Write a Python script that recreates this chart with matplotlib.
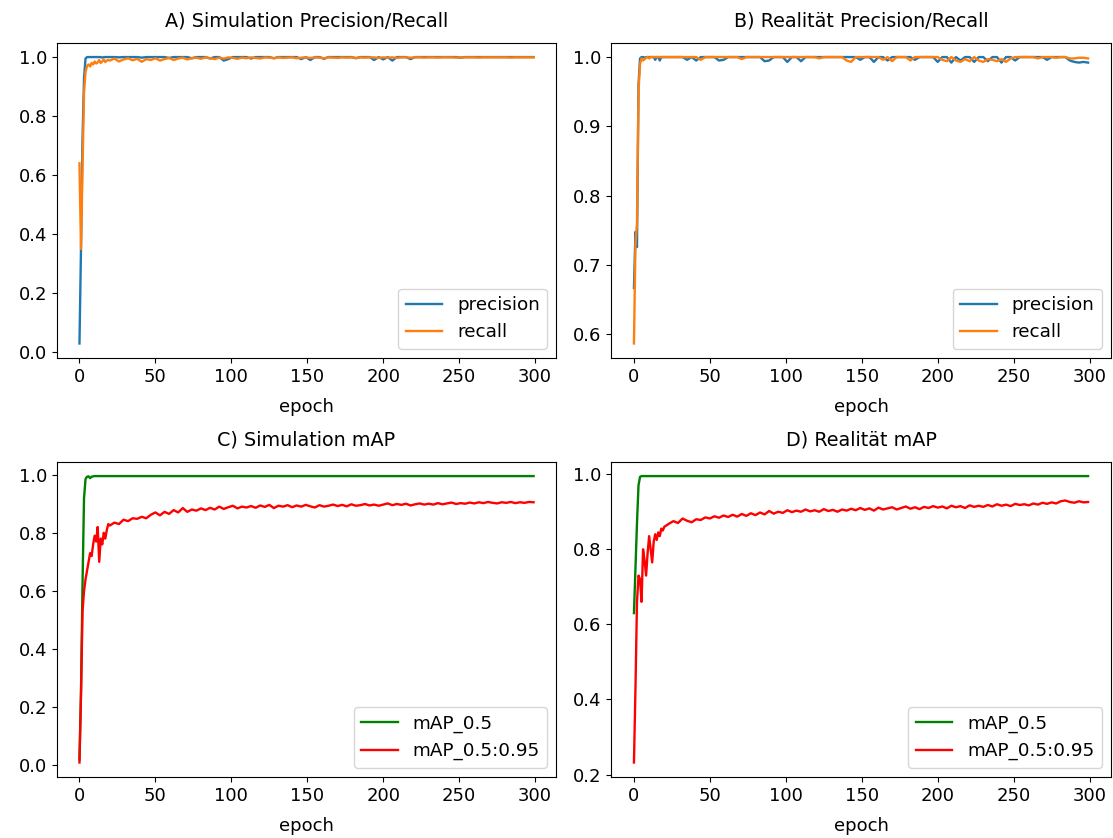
import matplotlib
matplotlib.use("Agg")
import matplotlib.pyplot as plt

epochs = list(range(0, 20)) + list(range(20, 300, 3))

# A) Simulation precision / recall
sim_prec = [0.03, 0.35, 0.72, 0.93, 0.995, 1.0, 1.0, 1.0, 1.0, 1.0,
            1.0, 1.0, 1.0, 1.0, 1.0, 0.998, 1.0, 1.0, 1.0, 1.0] + [
            1.0, 1.0, 0.999, 1.0, 1.0, 1.0, 1.0, 0.998, 1.0, 1.0,
            1.0, 1.0, 1.0, 0.997, 1.0, 1.0, 1.0, 1.0, 0.996, 1.0,
            1.0, 1.0, 0.995, 1.0, 1.0, 0.988, 0.993, 1.0, 1.0, 1.0,
            1.0, 0.995, 1.0, 1.0, 1.0, 1.0, 0.996, 1.0, 1.0, 1.0,
            1.0, 1.0, 0.993, 1.0, 0.99, 1.0, 1.0, 0.994, 1.0, 1.0,
            1.0, 1.0, 1.0, 1.0, 0.996, 1.0, 1.0, 1.0, 0.99, 1.0,
            0.992, 1.0, 0.988, 1.0, 1.0, 1.0, 0.993, 1.0, 1.0, 1.0,
            1.0, 1.0, 1.0, 1.0, 1.0, 1.0, 1.0, 0.998, 1.0, 1.0,
            1.0, 1.0, 1.0, 1.0, 1.0, 1.0, 1.0, 1.0, 1.0, 1.0,
            1.0, 1.0, 1.0, 1.0]
sim_rec = [0.64, 0.35, 0.62, 0.88, 0.95, 0.97, 0.975, 0.968, 0.98, 0.975,
           0.985, 0.978, 0.982, 0.99, 0.98, 0.985, 0.992, 0.983, 0.988, 0.99] + [
           0.988, 0.995, 0.985, 0.992, 0.996, 0.989, 0.994, 0.984, 0.993, 0.99,
           0.996, 0.988, 0.993, 0.997, 0.99, 0.995, 0.998, 0.992, 0.996, 0.998,
           0.994, 0.999, 0.996, 0.993, 0.998, 0.995, 0.999, 0.997, 0.994, 0.998,
           0.996, 0.999, 0.997, 0.995, 0.999, 0.998, 0.996, 0.999, 0.997, 0.998,
           0.999, 0.996, 0.998, 0.999, 0.997, 0.999, 0.998, 0.996, 0.999, 0.998,
           0.997, 0.999, 0.998, 0.999, 0.997, 0.999, 0.998, 0.999, 0.999, 0.997,
           0.999, 0.998, 0.999, 0.997, 0.999, 0.999, 0.998, 0.999, 0.999, 0.998,
           0.999, 0.999, 0.998, 0.999, 0.999, 0.999, 0.998, 0.999, 0.999, 0.999,
           0.999, 0.998, 0.999, 0.999, 0.999, 0.999, 0.999, 0.999, 0.998, 0.999,
           0.999, 0.999, 0.999, 0.999]

# B) Realität precision / recall
real_prec = [0.667, 0.748, 0.726, 0.96, 0.998, 1.0, 1.0, 0.999, 1.0, 1.0,
             1.0, 1.0, 1.0, 1.0, 0.996, 1.0, 1.0, 0.995, 1.0, 1.0] + [
             1.0, 1.0, 1.0, 1.0, 1.0, 0.996, 1.0, 0.995, 1.0, 1.0,
             1.0, 1.0, 0.995, 0.996, 1.0, 1.0, 1.0, 1.0, 1.0, 1.0,
             1.0, 1.0, 0.994, 0.995, 1.0, 1.0, 1.0, 0.993, 1.0, 1.0,
             0.994, 1.0, 1.0, 1.0, 1.0, 1.0, 1.0, 1.0, 1.0, 1.0,
             1.0, 1.0, 1.0, 0.996, 1.0, 1.0, 0.993, 1.0, 1.0, 0.995,
             1.0, 1.0, 1.0, 1.0, 1.0, 0.996, 1.0, 1.0, 1.0, 1.0,
             0.993, 1.0, 1.0, 0.992, 1.0, 0.995, 1.0, 1.0, 0.993, 1.0,
             1.0, 0.994, 1.0, 1.0, 0.992, 1.0, 1.0, 0.995, 1.0, 1.0,
             1.0, 1.0, 1.0, 1.0, 0.996, 1.0, 1.0, 1.0, 1.0, 0.995,
             0.993, 0.992, 0.993, 0.992]
real_rec = [0.587, 0.73, 0.76, 0.95, 0.99, 0.998, 0.995, 0.997, 0.999, 1.0,
            0.998, 1.0, 1.0, 1.0, 1.0, 1.0, 1.0, 1.0, 1.0, 1.0] + [
            1.0, 1.0, 1.0, 1.0, 1.0, 1.0, 1.0, 1.0, 0.996, 1.0,
            1.0, 1.0, 1.0, 1.0, 1.0, 1.0, 1.0, 0.997, 1.0, 1.0,
            1.0, 1.0, 1.0, 1.0, 1.0, 1.0, 1.0, 1.0, 1.0, 1.0,
            1.0, 1.0, 1.0, 1.0, 0.998, 1.0, 1.0, 1.0, 1.0, 1.0,
            0.995, 0.993, 1.0, 1.0, 1.0, 1.0, 1.0, 1.0, 0.996, 1.0,
            0.994, 1.0, 1.0, 1.0, 0.995, 1.0, 1.0, 1.0, 1.0, 1.0,
            1.0, 0.996, 0.994, 1.0, 0.995, 0.993, 0.997, 0.994, 1.0, 0.995,
            0.993, 0.997, 0.996, 0.994, 0.997, 0.993, 0.998, 1.0, 1.0, 1.0,
            1.0, 1.0, 0.998, 1.0, 1.0, 1.0, 0.999, 1.0, 1.0, 0.998,
            0.998, 0.999, 0.999, 0.998]

# C) Simulation mAP
sim_map50 = [0.02, 0.25, 0.62, 0.92, 0.985, 0.993, 0.994, 0.988, 0.993, 0.994,
             0.995, 0.995, 0.995, 0.995, 0.995, 0.995, 0.995, 0.995, 0.995, 0.995] + [0.995] * 94
sim_map5095 = [0.01, 0.24, 0.53, 0.60, 0.64, 0.67, 0.70, 0.73, 0.72, 0.76,
               0.79, 0.77, 0.82, 0.70, 0.78, 0.76, 0.80, 0.78, 0.81, 0.83] + [
               0.825, 0.835, 0.83, 0.845, 0.84, 0.85, 0.848, 0.855, 0.85, 0.862,
               0.87, 0.86, 0.872, 0.865, 0.878, 0.87, 0.885, 0.872, 0.88, 0.876,
               0.884, 0.878, 0.886, 0.88, 0.89, 0.882, 0.888, 0.893, 0.884, 0.89,
               0.887, 0.892, 0.886, 0.894, 0.889, 0.896, 0.885, 0.893, 0.89, 0.895,
               0.888, 0.894, 0.89, 0.896, 0.891, 0.887, 0.895, 0.89, 0.893, 0.897,
               0.892, 0.896, 0.891, 0.898, 0.893, 0.895, 0.899, 0.894, 0.897, 0.893,
               0.897, 0.901, 0.895, 0.899, 0.896, 0.9, 0.894, 0.898, 0.901, 0.897,
               0.9, 0.897, 0.902, 0.898, 0.901, 0.904, 0.899, 0.902, 0.9, 0.904,
               0.901, 0.905, 0.902, 0.906, 0.903, 0.901, 0.905, 0.903, 0.906, 0.902,
               0.905, 0.903, 0.906, 0.905]

# D) Realität mAP
real_map50 = [0.63, 0.75, 0.87, 0.97, 0.993, 0.995, 0.995, 0.995, 0.995, 0.995,
              0.995, 0.995, 0.995, 0.995, 0.995, 0.995, 0.995, 0.995, 0.995, 0.995] + [0.995] * 94
real_map5095 = [0.232, 0.43, 0.66, 0.73, 0.72, 0.66, 0.80, 0.77, 0.73, 0.79,
                0.835, 0.80, 0.765, 0.82, 0.84, 0.825, 0.845, 0.835, 0.855, 0.85] + [
                0.86, 0.868, 0.875, 0.87, 0.882, 0.876, 0.872, 0.88, 0.878, 0.885,
                0.882, 0.888, 0.884, 0.89, 0.886, 0.892, 0.887, 0.894, 0.889, 0.896,
                0.891, 0.898, 0.893, 0.902, 0.895, 0.9, 0.897, 0.904, 0.899, 0.903,
                0.9, 0.906, 0.901, 0.904, 0.9, 0.907, 0.902, 0.905, 0.9, 0.906,
                0.903, 0.908, 0.904, 0.91, 0.905, 0.909, 0.903, 0.911, 0.906, 0.909,
                0.912, 0.906, 0.91, 0.914, 0.908, 0.912, 0.907, 0.913, 0.91, 0.915,
                0.911, 0.914, 0.909, 0.916, 0.912, 0.915, 0.91, 0.917, 0.913, 0.916,
                0.913, 0.918, 0.914, 0.92, 0.916, 0.919, 0.915, 0.921, 0.918, 0.92,
                0.917, 0.922, 0.919, 0.924, 0.921, 0.925, 0.922, 0.928, 0.93, 0.926,
                0.924, 0.928, 0.925, 0.926]

FS = 13.5
plt.rcParams['font.size'] = FS

fig, axs = plt.subplots(2, 2, figsize=(11.13, 8.38), dpi=100)
fig.subplots_adjust(left=0.051, right=0.998, top=0.949, bottom=0.073,
                    wspace=0.11, hspace=0.33)

panels = [
    (axs[0, 0], 'A) Simulation Precision/Recall', sim_prec, sim_rec, 'precision', 'recall', 'tab:blue', 'tab:orange'),
    (axs[0, 1], 'B) Realität Precision/Recall', real_prec, real_rec, 'precision', 'recall', 'tab:blue', 'tab:orange'),
    (axs[1, 0], 'C) Simulation mAP', sim_map50, sim_map5095, 'mAP_0.5', 'mAP_0.5:0.95', 'green', 'red'),
    (axs[1, 1], 'D) Realität mAP', real_map50, real_map5095, 'mAP_0.5', 'mAP_0.5:0.95', 'green', 'red'),
]

for ax, title, y1, y2, l1, l2, c1, c2 in panels:
    ax.plot(epochs, y1, color=c1, lw=1.7, label=l1)
    ax.plot(epochs, y2, color=c2, lw=1.7, label=l2)
    ax.set_title(title, fontsize=FS + 0.3, pad=12)
    ax.set_xlabel('epoch', fontsize=FS - 0.5, labelpad=9)
    ax.set_xticks([0, 50, 100, 150, 200, 250, 300])
    ax.tick_params(labelsize=FS - 0.5)
    ax.legend(loc='lower right', fontsize=FS - 0.3)

fig.savefig('out.png', dpi=100)
